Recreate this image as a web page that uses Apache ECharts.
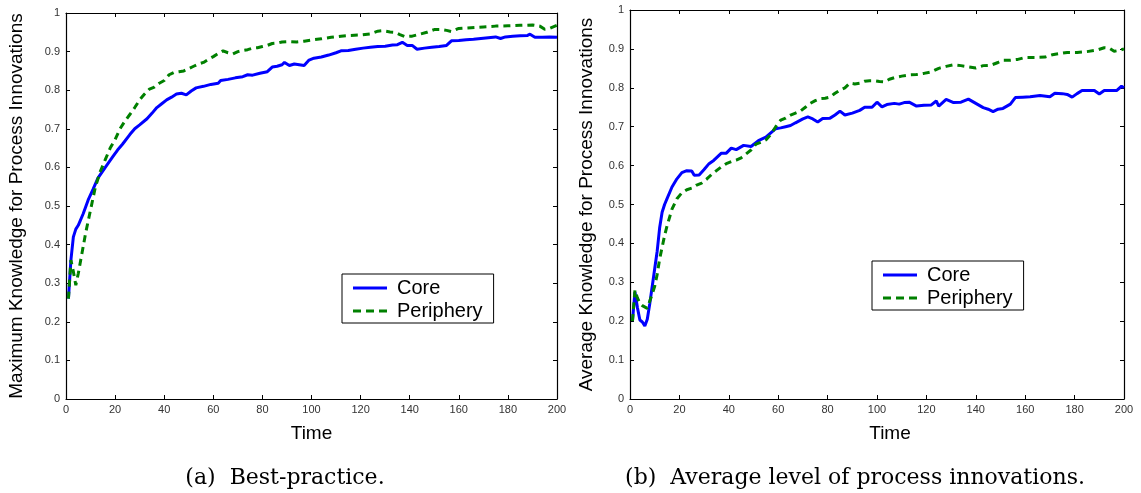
<!DOCTYPE html>
<html>
<head>
<meta charset="utf-8">
<script src="https://cdn.jsdelivr.net/npm/echarts@6/dist/echarts.min.js"></script>
<style>
html,body{margin:0;padding:0;background:#fff;}
#c{width:1141px;height:493px;}
</style>
</head>
<body>
<div id="c"></div>
<script>
// ---------- DATA ----------
const xTicks = [0,20,40,60,80,100,120,140,160,180,200];
const yTicks = [0,0.1,0.2,0.3,0.4,0.5,0.6,0.7,0.8,0.9,1];
const seriesNames = ['Core','Periphery'];

// (a) Best-practice: maximum knowledge
const aCoreT = [1,2,3,4,5,7,9,11,13,16,19,21,23,26,28,30,33,35,37,39,41,43,45,47,49,51,53,56,59,62,63,66,69,72,74,76,79,82,84,86,88,89,91,93,95,97,99,101,104,107,110,112,115,118,121,124,127,130,133,135,137,139,141,143,146,149,152,155,157,160,163,166,169,172,175,177,179,182,185,188,189,191,194,197,200];
const aCoreV = [0.26,0.36,0.42,0.44,0.45,0.48,0.515,0.543,0.572,0.60,0.627,0.645,0.66,0.685,0.70,0.71,0.726,0.74,0.755,0.765,0.775,0.782,0.79,0.792,0.788,0.798,0.806,0.81,0.815,0.818,0.825,0.828,0.832,0.835,0.84,0.839,0.844,0.848,0.86,0.862,0.866,0.872,0.864,0.868,0.866,0.864,0.878,0.883,0.886,0.891,0.897,0.902,0.903,0.906,0.909,0.911,0.913,0.914,0.917,0.918,0.924,0.916,0.916,0.906,0.909,0.911,0.913,0.916,0.928,0.929,0.931,0.932,0.934,0.936,0.938,0.934,0.938,0.94,0.941,0.942,0.945,0.937,0.937,0.938,0.937];
const aPeriT = [1,2,3,4,5,6,7,8,9,10,11,12,13,14,16,18,20,22,24,26,28,30,32,34,36,38,40,42,44,46,48,50,52,54,56,58,60,62,64,66,68,70,72,74,76,78,80,82,84,86,88,91,94,97,100,104,108,112,116,120,124,127,129,132,134,136,138,141,144,147,150,153,155,157,160,165,170,175,180,185,190,193,195,197,200];
const aPeriV = [0.26,0.36,0.33,0.295,0.325,0.36,0.395,0.43,0.46,0.49,0.52,0.55,0.57,0.59,0.62,0.65,0.672,0.70,0.72,0.737,0.755,0.775,0.79,0.803,0.808,0.818,0.825,0.84,0.846,0.848,0.85,0.856,0.862,0.868,0.872,0.88,0.887,0.895,0.902,0.897,0.894,0.90,0.903,0.905,0.909,0.91,0.913,0.916,0.921,0.922,0.925,0.926,0.925,0.927,0.93,0.933,0.937,0.94,0.942,0.943,0.946,0.953,0.954,0.951,0.95,0.944,0.939,0.94,0.945,0.95,0.957,0.957,0.955,0.952,0.96,0.962,0.964,0.966,0.967,0.968,0.969,0.966,0.958,0.96,0.968];

// (b) Average level of process innovations
const bCoreT = [1,2,3,4,5,6,7,8,9,10,11,12,13,14,15,17,19,21,23,25,26,28,30,32,34,37,39,41,43,46,49,52,55,57,59,61,63,65,67,70,72,74,76,78,81,83,85,87,90,93,95,98,100,102,104,107,109,111,113,116,119,122,124,125,128,131,134,137,140,143,145,147,149,151,154,156,159,162,166,170,172,175,177,179,181,183,186,188,190,192,195,197,199,200];
const bCoreV = [0.20,0.275,0.235,0.203,0.198,0.188,0.205,0.245,0.29,0.335,0.38,0.44,0.48,0.50,0.515,0.545,0.566,0.582,0.587,0.586,0.575,0.576,0.59,0.605,0.614,0.632,0.632,0.645,0.641,0.652,0.649,0.664,0.673,0.684,0.695,0.697,0.70,0.703,0.71,0.72,0.725,0.72,0.712,0.721,0.722,0.73,0.74,0.73,0.735,0.742,0.75,0.75,0.763,0.751,0.757,0.76,0.758,0.762,0.763,0.753,0.755,0.756,0.766,0.753,0.77,0.762,0.763,0.771,0.76,0.749,0.745,0.739,0.745,0.747,0.758,0.775,0.776,0.777,0.78,0.777,0.786,0.785,0.783,0.776,0.785,0.793,0.793,0.793,0.784,0.793,0.793,0.793,0.804,0.80];
const bPeriT = [1,2,3,4,5,7,9,10,11,12,13,14,15,17,19,21,23,25,27,29,31,33,35,37,39,41,43,45,47,49,51,53,55,57,59,61,63,65,67,69,71,73,75,77,79,81,83,85,87,89,91,93,95,97,99,101,103,105,107,110,113,116,119,122,125,128,131,134,137,140,143,146,149,151,154,157,160,164,168,171,174,177,181,185,189,192,194,196,198,200];
const bPeriV = [0.20,0.28,0.26,0.246,0.24,0.233,0.27,0.29,0.32,0.36,0.39,0.42,0.445,0.488,0.515,0.53,0.538,0.542,0.55,0.555,0.565,0.577,0.587,0.597,0.605,0.61,0.614,0.62,0.63,0.64,0.655,0.66,0.666,0.68,0.70,0.717,0.722,0.73,0.735,0.74,0.75,0.76,0.767,0.772,0.773,0.776,0.786,0.794,0.80,0.812,0.81,0.812,0.817,0.818,0.818,0.816,0.815,0.822,0.826,0.83,0.833,0.834,0.837,0.841,0.85,0.855,0.859,0.857,0.854,0.851,0.857,0.858,0.865,0.871,0.871,0.873,0.878,0.878,0.879,0.885,0.888,0.891,0.891,0.893,0.897,0.903,0.902,0.894,0.896,0.90];

const yNames = ['Maximum Knowledge for Process Innovations','Average Knowledge for Process Innovations'];
const xName = 'Time';
const captions = ['(a)  Best-practice.','(b)  Average level of process innovations.'];

// ---------- CHART ----------
const SANS = '"Liberation Sans", Arial, sans-serif';
const BLUE = '#0000ff', GREEN = '#008000';
const pairs = (t, v) => t.map((x, i) => [x, v[i]]);
const ICON_SOLID = 'path://M0,0h34v3h-34z';
const ICON_DASH = 'path://M0,0h8v3h-8z M13,0h8v3h-8z M26,0h8v3h-8z';

const grids = [
  {left: 66, top: 13, width: 491, height: 386},
  {left: 630, top: 10, width: 494, height: 389}
];

function xAx(g, main, shift) {
  return {
    type: 'value', gridIndex: g, min: 0, max: 200, interval: 20,
    position: main ? 'bottom' : 'top',
    name: main ? xName : '', nameLocation: 'middle', nameGap: 25,
    nameTextStyle: {fontFamily: SANS, fontSize: 19, color: '#000', padding: [0, 0, 0, shift || 0]},
    axisLine: {show: true, onZero: false, lineStyle: {color: '#000', width: 1.2}},
    axisTick: {show: true, inside: true, length: 4, lineStyle: {color: '#000'}},
    axisLabel: {show: main, fontFamily: SANS, fontSize: 11, color: '#333', margin: 5},
    splitLine: {show: false}
  };
}
function yAx(g, main, gap) {
  return {
    type: 'value', gridIndex: g, min: 0, max: 1, interval: 0.1,
    position: main ? 'left' : 'right',
    name: main ? yNames[g] : '', nameLocation: 'middle', nameGap: gap,
    nameTextStyle: {fontFamily: SANS, fontSize: 19, color: '#000'},
    axisLine: {show: true, onZero: false, lineStyle: {color: '#000', width: 1.2}},
    axisTick: {show: true, inside: true, length: 4, lineStyle: {color: '#000'}},
    axisLabel: {show: main, fontFamily: SANS, fontSize: 11, color: '#333', margin: 6},
    splitLine: {show: false}
  };
}

function ser(name, xi, yi, data, color, dashed) {
  return {
    name: name, type: 'line', xAxisIndex: xi, yAxisIndex: yi,
    data: data, symbol: 'none', smooth: false, animation: false,
    lineStyle: {color: color, width: 3, type: dashed ? [7, 5] : 'solid'},
    itemStyle: {color: color}
  };
}

function leg(left, top) {
  return {
    data: [{name: seriesNames[0], icon: ICON_SOLID}, {name: seriesNames[1], icon: ICON_DASH}],
    orient: 'vertical', left: left, top: top,
    backgroundColor: '#fff', borderColor: '#000', borderWidth: 1,
    padding: [4, 11, 2, 11], itemWidth: 34, itemHeight: 3, itemGap: 3,
    textStyle: {fontFamily: SANS, fontSize: 20, color: '#000', lineHeight: 20, padding: [0,0,0,5]},
    selectedMode: false
  };
}

const chart = echarts.init(document.getElementById('c'), null, {renderer: 'canvas'});
chart.setOption({
  animation: false,
  backgroundColor: '#fff',
  grid: grids,
  xAxis: [xAx(0, true, 0), xAx(0, false), xAx(1, true, 26), xAx(1, false)],
  yAxis: [yAx(0, true, 40), yAx(0, false, 0), yAx(1, true, 34), yAx(1, false, 0)],
  legend: [leg(342, 274), leg(872, 261)],
  series: [
    ser('Core', 0, 0, pairs(aCoreT, aCoreV), BLUE, false),
    ser('Periphery', 0, 0, pairs(aPeriT, aPeriV), GREEN, true),
    ser('Core', 2, 2, pairs(bCoreT, bCoreV), BLUE, false),
    ser('Periphery', 2, 2, pairs(bPeriT, bPeriV), GREEN, true)
  ],
  graphic: [
    {type: 'text', x: 285, y: 478, style: {text: captions[0], font: '22px "DejaVu Serif", serif', fill: '#000', align: 'center', verticalAlign: 'middle'}},
    {type: 'text', x: 855, y: 478, style: {text: captions[1], font: '22px "DejaVu Serif", serif', fill: '#000', align: 'center', verticalAlign: 'middle'}}
  ]
});
</script>
</body>
</html>
